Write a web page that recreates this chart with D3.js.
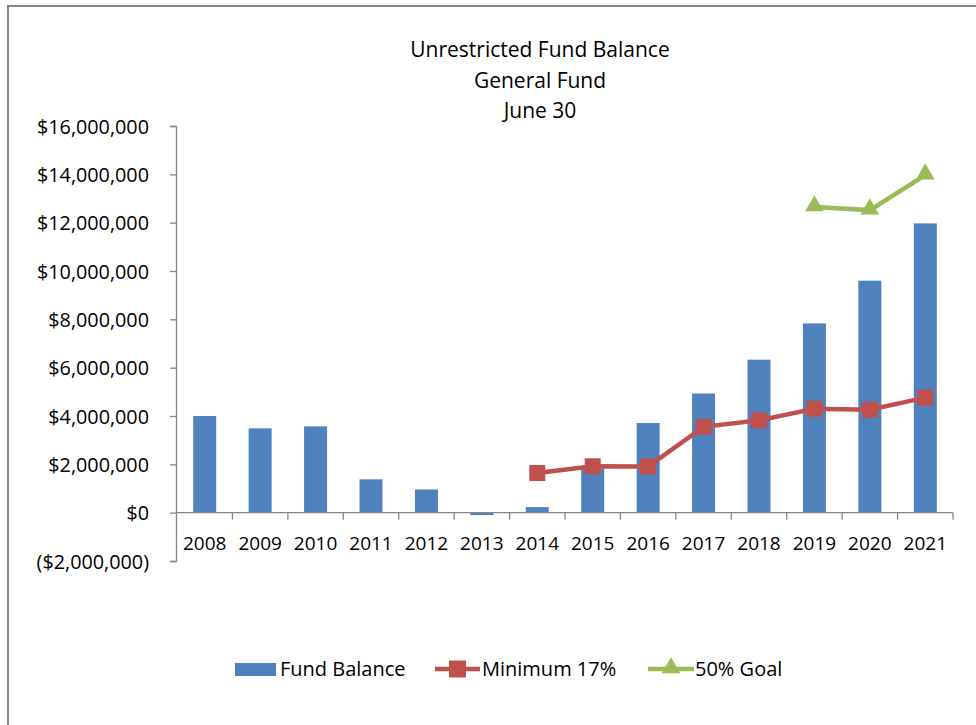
<!DOCTYPE html>
<html>
<head>
<meta charset="utf-8">
<script src="https://cdn.jsdelivr.net/npm/d3@7"></script>
<style>
	body { margin: 0; background: #fff; }
	svg text { font-family: "Open Sans", Lato, sans-serif; fill: #000; }
</style>
</head>
<body>
<script>
// chart data
var years = ["2008", "2009", "2010", "2011", "2012", "2013", "2014", "2015", "2016", "2017", "2018", "2019", "2020", "2021"];
var fundBalance = [4000000, 3490000, 3570000, 1380000, 960000, -100000, 230000, 1830000, 3710000, 4930000, 6330000, 7830000, 9600000, 11970000];
var minimum17 = [null, null, null, null, null, null, 1640000, 1920000, 1910000, 3550000, 3820000, 4300000, 4260000, 4760000];
var goal50 = [null, null, null, null, null, null, null, null, null, null, null, 12650000, 12520000, 13970000];
var yTicks = [-2000000, 0, 2000000, 4000000, 6000000, 8000000, 10000000, 12000000, 14000000, 16000000];
var titleLines = ["Unrestricted Fund Balance", "General Fund", "June 30"];

var width = 976, height = 725;
var svg = d3.select("body").append("svg").attr("width", width).attr("height", height);

// outer frame (runs off the right and bottom)
svg.append("rect")
	.attr("x", 8).attr("y", 6)
	.attr("width", 1100).attr("height", 800)
	.style("fill", "none").style("stroke", "#898989").style("stroke-width", 2);

var x = d3.scaleBand().domain(years).range([177, 953]).paddingInner(0.585).paddingOuter(0.2925);
var xOuter = d3.scaleBand().domain(years).range([177, 953]);
var y = d3.scaleLinear().domain([-2000000, 16000000]).range([561, 126]);

var fmt = function(v) {
	var s = "$" + d3.format(",")(Math.abs(v));
	return v < 0 ? "(" + s + ")" : s;
};

// title
svg.append("g").selectAll("text").data(titleLines).enter().append("text")
	.attr("x", 540).attr("y", function(d, i) { return 57 + i * 30.7; })
	.attr("text-anchor", "middle").style("font-size", "21px")
	.text(function(d) { return d; });

// y axis
var yAxis = svg.append("g").attr("transform", "translate(176,0)")
	.call(d3.axisLeft(y).tickValues(yTicks).tickFormat(fmt).tickSize(6).tickPadding(21));
yAxis.select(".domain").style("stroke", "#868686").style("stroke-width", 1.3);
yAxis.selectAll(".tick line").style("stroke", "#868686").style("stroke-width", 1.3);
yAxis.selectAll("text").style("font-size", "19.8px").attr("dy", "0.36em");

// bars
svg.append("g").selectAll("rect").data(years).enter().append("rect")
	.attr("x", function(d) { return x(d); })
	.attr("width", x.bandwidth())
	.attr("y", function(d, i) { return y(Math.max(0, fundBalance[i])); })
	.attr("height", function(d, i) { return Math.abs(y(fundBalance[i]) - y(0)); })
	.style("fill", "#4F81BD");

// x axis at zero with ticks at category boundaries
var xg = svg.append("g").attr("transform", "translate(0," + y(0) + ")");
xg.append("line").attr("x1", 176).attr("x2", 953).attr("y1", 0).attr("y2", 0)
	.style("stroke", "#868686").style("stroke-width", 1.3);
xg.selectAll("line.tk").data(years).enter().append("line").attr("class", "tk")
	.attr("x1", function(d) { return xOuter(d) + xOuter.bandwidth(); })
	.attr("x2", function(d) { return xOuter(d) + xOuter.bandwidth(); })
	.attr("y1", 0).attr("y2", 7)
	.style("stroke", "#868686").style("stroke-width", 1.3);
xg.selectAll("text").data(years).enter().append("text")
	.attr("x", function(d) { return x(d) + x.bandwidth() / 2; })
	.attr("y", 37).attr("text-anchor", "middle").style("font-size", "19px")
	.text(function(d) { return d; });

// lines
var line = function(vals) {
	return d3.line()
		.defined(function(d, i) { return vals[i] !== null; })
		.x(function(d) { return x(d) + x.bandwidth() / 2; })
		.y(function(d, i) { return y(vals[i]); })(years);
};

svg.append("path").attr("d", line(minimum17))
	.style("fill", "none").style("stroke", "#C0504D").style("stroke-width", 4.5);
svg.append("g").selectAll("rect").data(years.filter(function(d, i) { return minimum17[i] !== null; }))
	.enter().append("rect")
	.attr("x", function(d) { return x(d) + x.bandwidth() / 2 - 8; })
	.attr("y", function(d) { return y(minimum17[years.indexOf(d)]) - 8; })
	.attr("width", 16).attr("height", 16)
	.style("fill", "#C0504D");

svg.append("path").attr("d", line(goal50))
	.style("fill", "none").style("stroke", "#9BBB59").style("stroke-width", 4.5);
var tri = d3.symbol().type(d3.symbolTriangle).size(150);
svg.append("g").selectAll("path").data(years.filter(function(d, i) { return goal50[i] !== null; }))
	.enter().append("path")
	.attr("d", tri)
	.attr("transform", function(d) { return "translate(" + (x(d) + x.bandwidth() / 2) + "," + (y(goal50[years.indexOf(d)]) - 1) + ")"; })
	.style("fill", "#9BBB59");

// legend
var legend = svg.append("g").attr("transform", "translate(0,669)");
legend.append("rect").attr("x", 235).attr("y", -6).attr("width", 41).attr("height", 13).style("fill", "#4F81BD");
legend.append("text").attr("x", 280).attr("y", 7).style("font-size", "20px").text("Fund Balance");

legend.append("line").attr("x1", 435).attr("x2", 480).attr("y1", 0).attr("y2", 0)
	.style("stroke", "#C0504D").style("stroke-width", 4.5);
legend.append("rect").attr("x", 449).attr("y", -8.5).attr("width", 17).attr("height", 17).style("fill", "#C0504D");
legend.append("text").attr("x", 482).attr("y", 7).style("font-size", "20px").text("Minimum 17%");

legend.append("line").attr("x1", 648).attr("x2", 694).attr("y1", 0).attr("y2", 0)
	.style("stroke", "#9BBB59").style("stroke-width", 4.5);
legend.append("path").attr("d", tri).attr("transform", "translate(671,-1)").style("fill", "#9BBB59");
legend.append("text").attr("x", 695).attr("y", 7).style("font-size", "20px").text("50% Goal");
</script>
</body>
</html>
